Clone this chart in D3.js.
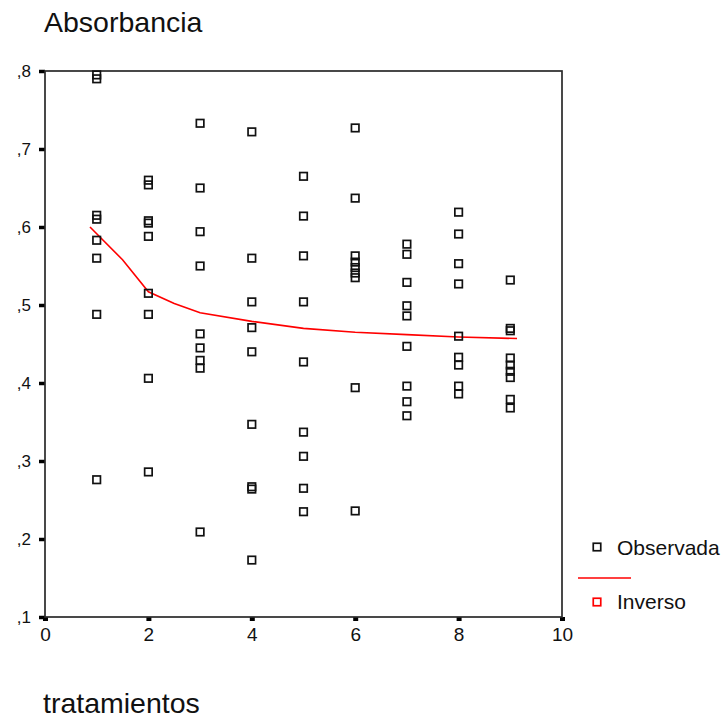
<!DOCTYPE html>
<html>
<head>
<meta charset="utf-8">
<style>
  body { margin: 0; background: #fff; }
  svg { display: block; font-family: Arial, "Liberation Sans", sans-serif; }
  .tick text { fill: #111; }
</style>
<script src="https://d3js.org/d3.v7.min.js"></script>
</head>
<body>
<div id="chart"></div>
<script>
var trat1 = [0.795, 0.790, 0.615, 0.610, 0.583, 0.560, 0.488, 0.276];
var trat2 = [0.660, 0.654, 0.608, 0.605, 0.588, 0.515, 0.488, 0.406, 0.286];
var trat3 = [0.733, 0.650, 0.594, 0.550, 0.463, 0.445, 0.429, 0.419, 0.209];
var trat4 = [0.722, 0.560, 0.504, 0.471, 0.440, 0.347, 0.267, 0.264, 0.173];
var trat5 = [0.665, 0.614, 0.563, 0.504, 0.427, 0.337, 0.306, 0.265, 0.235];
var trat6 = [0.727, 0.637, 0.563, 0.555, 0.548, 0.541, 0.535, 0.394, 0.236];
var trat7 = [0.578, 0.565, 0.529, 0.499, 0.486, 0.447, 0.396, 0.376, 0.358];
var trat8 = [0.619, 0.591, 0.553, 0.527, 0.460, 0.433, 0.423, 0.396, 0.386];
var trat9 = [0.532, 0.470, 0.467, 0.432, 0.423, 0.415, 0.407, 0.379, 0.368];
var grupos = [trat1, trat2, trat3, trat4, trat5, trat6, trat7, trat8, trat9];

// fitted "Inverso" curve
var inversoX = [0.87, 1.5, 2, 2.5, 3, 4, 5, 6, 7, 8, 9.13];
var inversoY = [0.600, 0.558, 0.517, 0.502, 0.490, 0.479, 0.470, 0.465, 0.462, 0.459, 0.457];

var xTicks = [0, 2, 4, 6, 8, 10];
var yTicks = [0.1, 0.2, 0.3, 0.4, 0.5, 0.6, 0.7, 0.8];
var legendLabels = ["Observada", "Inverso"];

var W = 726, H = 719;
var plotL = 45, plotR = 562, plotT = 71, plotB = 617;

var svg = d3.select("#chart").append("svg")
    .attr("width", W)
    .attr("height", H);

svg.append("rect").attr("width", W).attr("height", H).attr("fill", "#fff");

var x = d3.scaleLinear().domain([0, 10]).range([plotL, plotR]);
var y = d3.scaleLinear().domain([0.1, 0.8]).range([plotB, plotT]);

// flatten observations
var obs = [];
grupos.forEach(function(vals, i) {
    vals.forEach(function(v) { obs.push({ t: i + 1, v: v }); });
});

// axes
var yAxis = svg.append("g")
    .attr("transform", "translate(" + plotL + ",0)")
    .call(d3.axisLeft(y).tickValues(yTicks).tickSize(6).tickPadding(8)
        .tickFormat(function(d) { return "," + Math.round(d * 10); }));
yAxis.select(".domain").remove();
yAxis.selectAll(".tick line").attr("stroke", "#000").attr("stroke-width", 3.5);
yAxis.selectAll(".tick text").style("font-size", "17px").attr("dy", "0.35em");

var xAxis = svg.append("g")
    .attr("transform", "translate(0," + plotB + ")")
    .call(d3.axisBottom(x).tickValues(xTicks).tickSize(4).tickPadding(7)
        .tickFormat(d3.format("d")));
xAxis.select(".domain").remove();
xAxis.selectAll(".tick line").attr("stroke", "#000").attr("stroke-width", 5);
xAxis.selectAll(".tick text").style("font-size", "19px");

// frame
svg.append("rect")
    .attr("x", plotL).attr("y", plotT)
    .attr("width", plotR - plotL).attr("height", plotB - plotT)
    .attr("fill", "none")
    .attr("stroke", "#2a2a2a")
    .attr("stroke-width", 1.7);

// fitted curve
var line = d3.line()
    .x(function(d, i) { return x(inversoX[i]); })
    .y(function(d) { return y(d); });

svg.append("path")
    .datum(inversoY)
    .attr("d", line)
    .attr("fill", "none")
    .attr("stroke", "#ff0000")
    .attr("stroke-width", 1.6);

// observed points
var s = 7.5;
svg.append("g").selectAll("rect")
    .data(obs)
    .enter().append("rect")
    .attr("x", function(d) { return x(d.t) - s / 2; })
    .attr("y", function(d) { return y(d.v) - s / 2; })
    .attr("width", s)
    .attr("height", s)
    .attr("fill", "none")
    .attr("stroke", "#111")
    .attr("stroke-width", 1.7);

// titles
svg.append("text")
    .attr("x", 44).attr("y", 32)
    .style("font-size", "28.5px")
    .attr("fill", "#111")
    .text("Absorbancia");

svg.append("text")
    .attr("x", 43).attr("y", 713)
    .style("font-size", "28.5px")
    .attr("fill", "#111")
    .text("tratamientos");

// legend
var lg = svg.append("g");
lg.append("rect")
    .attr("x", 597 - s / 2).attr("y", 547 - s / 2)
    .attr("width", s).attr("height", s)
    .attr("fill", "none").attr("stroke", "#111").attr("stroke-width", 1.7);
lg.append("text")
    .attr("x", 617).attr("y", 555)
    .style("font-size", "21px").attr("fill", "#111")
    .text(legendLabels[0]);
lg.append("line")
    .attr("x1", 578).attr("x2", 631)
    .attr("y1", 578).attr("y2", 578)
    .attr("stroke", "#ff0000").attr("stroke-width", 1.6);
lg.append("rect")
    .attr("x", 597 - s / 2).attr("y", 602 - s / 2)
    .attr("width", s).attr("height", s)
    .attr("fill", "none").attr("stroke", "#ff0000").attr("stroke-width", 1.7);
lg.append("text")
    .attr("x", 617).attr("y", 609)
    .style("font-size", "21px").attr("fill", "#111")
    .text(legendLabels[1]);
</script>
</body>
</html>
